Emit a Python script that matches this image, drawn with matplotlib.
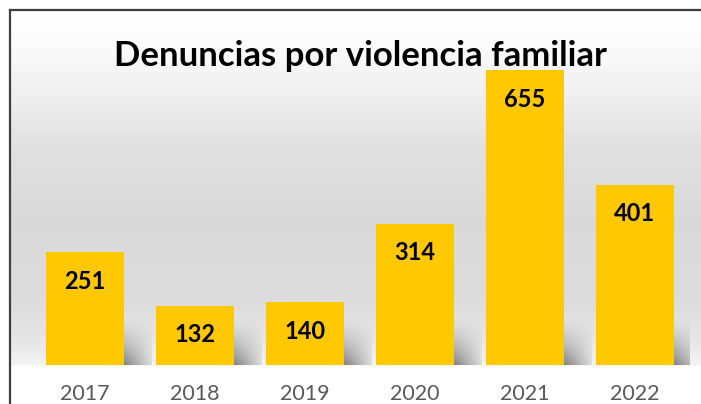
import matplotlib.pyplot as plt
import numpy as np
from matplotlib.lines import Line2D

years = ["2017", "2018", "2019", "2020", "2021", "2022"]
denuncias = [251, 132, 140, 314, 655, 401]

BAR_COLOR = "#FFC800"
W, H = 701, 404

plt.rcParams["font.family"] = ["Lato", "DejaVu Sans"]


def background(fig):
    # vertical grey gradient inside the chart frame, white floor below the bars
    bg = fig.add_axes([0, 0, 1, 1], zorder=0)
    rows = np.arange(H)
    stops_y = [10, 40, 90, 150, 220, 300, 340, 364, 366, 404]
    stops_v = [1.0, 0.985, 0.94, 0.875, 0.85, 0.86, 0.90, 0.95, 1.0, 1.0]
    col = np.interp(rows, stops_y, stops_v)
    img = np.repeat(col[:, None], W, axis=1)
    img[:, :10] = 1.0
    img[:10, :] = 1.0
    bg.imshow(img, cmap="gray", vmin=0, vmax=1, aspect="auto",
              extent=(0, W, H, 0), interpolation="bilinear")
    bg.set_xlim(0, W)
    bg.set_ylim(H, 0)
    bg.axis("off")
    # frame lines (left and top, the rest is cut off)
    fig.add_artist(Line2D([9.5 / W, 9.5 / W], [0, 1 - 9.5 / H], color="#3f3f3f", lw=1.6))
    fig.add_artist(Line2D([9.5 / W, 1], [1 - 9.5 / H, 1 - 9.5 / H], color="#3f3f3f", lw=1.6))


def main():
    fig = plt.figure(figsize=(W / 100, H / 100), dpi=100)
    background(fig)

    ax = fig.add_axes([30 / W, (H - 365) / H, 660 / W, 315 / H], zorder=1)
    ax.patch.set_alpha(0)
    x = np.arange(len(years))
    width = 0.71

    # soft shadow to the right of each bar base
    shade = np.linspace(0, 1, 50)
    for xi in x:
        sx = np.clip(1.2 - np.abs(np.linspace(-1, 1, 60)), 0, 1)
        alpha = np.outer(shade ** 1.6, sx) * 0.45
        rgba = np.zeros((50, 60, 4))
        rgba[..., 3] = alpha
        ax.imshow(rgba, extent=(xi + 0.02, xi + width / 2 + 0.25, 0, 110),
                  aspect="auto", origin="upper", zorder=1, interpolation="bilinear")

    ax.bar(x, denuncias, width=width, color=BAR_COLOR, zorder=2)
    for xi, v in zip(x, denuncias):
        ax.annotate(str(v), (xi, v), xytext=(0, -21), textcoords="offset points",
                    ha="center", va="center", fontsize=17, fontweight="bold",
                    color="black", zorder=3)

    ax.set_xlim(-0.5, len(years) - 0.5)
    ax.set_ylim(0, 700)
    ax.set_xticks(x)
    ax.set_xticklabels(years, fontsize=15.5, color="#595959")
    ax.tick_params(axis="x", length=0, pad=13.5)
    ax.set_yticks([])
    for spine in ax.spines.values():
        spine.set_visible(False)

    fig.text(360 / W, 1 - 56 / H, "Denuncias por violencia familiar",
             ha="center", va="center", fontsize=25, fontweight="bold")

    fig.savefig("out.png", dpi=100)
    plt.close(fig)


if __name__ == "__main__":
    main()
